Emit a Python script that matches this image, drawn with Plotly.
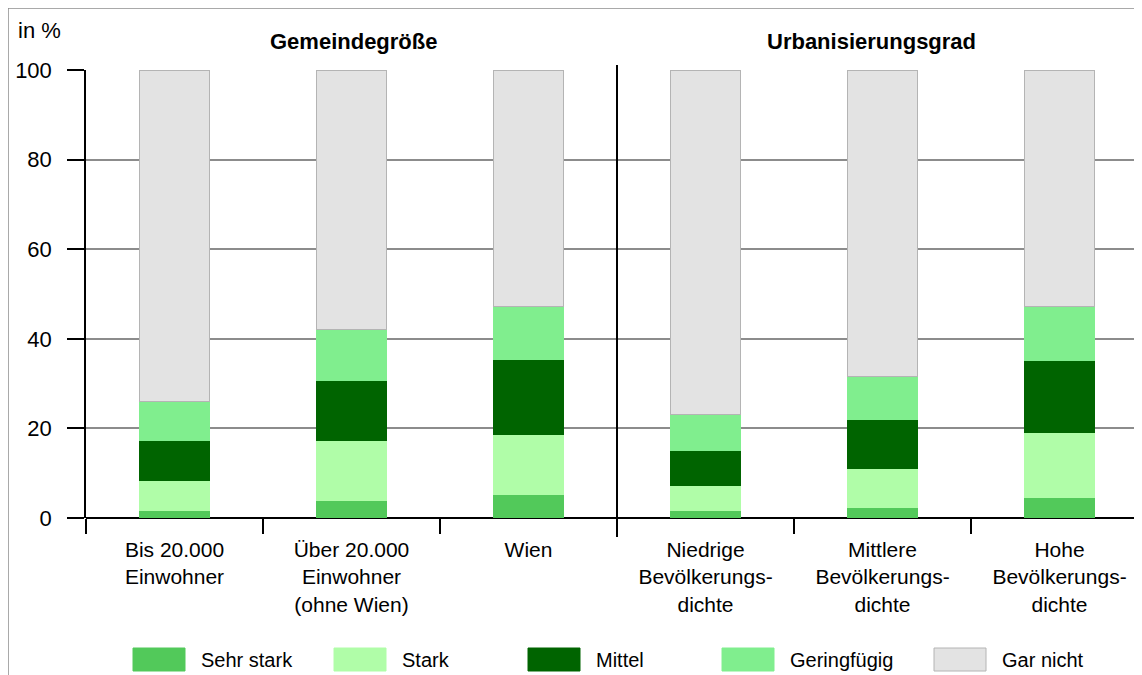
import plotly.graph_objects as go

categories = [
    "Bis 20.000<br>Einwohner",
    "Über 20.000<br>Einwohner<br>(ohne Wien)",
    "Wien",
    "Niedrige<br>Bevölkerungs-<br>dichte",
    "Mittlere<br>Bevölkerungs-<br>dichte",
    "Hohe<br>Bevölkerungs-<br>dichte",
]
series_names = ["Sehr stark", "Stark", "Mittel", "Geringfügig", "Gar nicht"]
sehr_stark = [1.7, 4.0, 5.2, 1.7, 2.3, 4.6]
stark = [6.6, 13.3, 13.4, 5.5, 8.8, 14.4]
mittel = [9.0, 13.3, 16.8, 7.8, 10.9, 16.2]
geringfuegig = [8.6, 11.4, 11.8, 8.1, 9.6, 12.0]
gar_nicht = [74.1, 58.0, 52.8, 76.9, 68.4, 52.8]
series_values = [sehr_stark, stark, mittel, geringfuegig, gar_nicht]
colors = ["#52c95a", "#b0fda8", "#006400", "#80ee8e", "#e3e3e3"]
group_titles = ["Gemeindegröße", "Urbanisierungsgrad"]
y_ticks = [0, 20, 40, 60, 80, 100]

# page has an 8px body margin; figure sized to fit the window exactly
OFF = 8
W, H = 1142 - OFF, 675 - OFF
L, R, T = 86 - OFF, 0, 70 - OFF
B = H - (518 - OFF)
pw, ph = W - L - R, H - T - B


def px(x):  # screen pixel -> paper
    return (x - OFF - L) / pw


def py(y):
    return (518 - y) / ph


FONT = "Liberation Sans, Arial, sans-serif"

fig = go.Figure()
for name, vals, col in zip(series_names, series_values, colors):
    fig.add_trace(go.Bar(
        x=list(range(len(categories))), y=vals, name=name,
        marker=dict(color=col,
                    line=dict(color="#b4b4b4" if name == "Gar nicht" else col, width=1)),
        showlegend=False, width=0.4,
    ))

shapes = []
# separator line between groups
shapes.append(dict(type="line", xref="x", yref="paper", x0=2.5, x1=2.5,
                   y0=py(537), y1=py(65), line=dict(color="black", width=2)))
# outer frame
shapes.append(dict(type="line", xref="paper", yref="paper", x0=px(8), x1=px(1150),
                   y0=py(8), y1=py(8), line=dict(color="#8c8c8c", width=1.5)))
shapes.append(dict(type="line", xref="paper", yref="paper", x0=px(8), x1=px(8),
                   y0=py(8), y1=py(680), line=dict(color="#8c8c8c", width=1.5)))

annotations = [
    dict(text="in %", xref="paper", yref="paper", x=px(16), y=py(30), xanchor="left",
         yanchor="middle", showarrow=False, font=dict(size=22, color="black", family=FONT)),
    dict(text="<b>%s</b>" % group_titles[0], xref="x", yref="paper", x=1.01, y=py(41),
         xanchor="center", yanchor="middle", showarrow=False,
         font=dict(size=22, color="black", family=FONT)),
    dict(text="<b>%s</b>" % group_titles[1], xref="x", yref="paper", x=3.94, y=py(41),
         xanchor="center", yanchor="middle", showarrow=False,
         font=dict(size=22, color="black", family=FONT)),
]

# custom legend
sw_left = [133, 334, 528, 722, 934]
for name, col, xl in zip(series_names, colors, sw_left):
    shapes.append(dict(type="rect", xref="paper", yref="paper", x0=px(xl), x1=px(xl + 52),
                       y0=py(671), y1=py(648), fillcolor=col,
                       line=dict(color="#b4b4b4" if name == "Gar nicht" else col, width=1)))
    annotations.append(dict(text=name, xref="paper", yref="paper", x=px(xl + 66), y=py(660),
                            xanchor="left", yanchor="middle", showarrow=False,
                            font=dict(size=20, color="black", family=FONT)))

fig.update_layout(
    width=W, height=H, barmode="stack",
    margin=dict(l=L, r=R, t=T, b=B, autoexpand=False),
    paper_bgcolor="white", plot_bgcolor="white",
    font=dict(family=FONT, size=22, color="black"),
    shapes=shapes, annotations=annotations,
    xaxis=dict(
        tickmode="array", tickvals=list(range(len(categories))), ticktext=categories,
        range=[-0.5, -0.5 + pw / 177], showgrid=False, zeroline=False,
        showline=False, ticks="", tickfont=dict(size=21), ticklabelstandoff=17,
    ),
    yaxis=dict(
        range=[0, 100], tickvals=y_ticks, showgrid=True, gridcolor="#8c8c8c", gridwidth=1.5,
        zeroline=True, zerolinecolor="black", zerolinewidth=1.5,
        showline=True, linecolor="black", linewidth=1.5,
        ticks="outside", ticklen=17, tickcolor="black", tickwidth=1.5,
        tickfont=dict(size=22), ticklabelstandoff=11,
    ),
)

# x-axis boundary ticks via an overlaid linear axis
fig.add_trace(go.Scatter(x=[-0.5, 5.5], y=[None, None], xaxis="x2", showlegend=False,
                         hoverinfo="skip"))
fig.update_layout(xaxis2=dict(overlaying="x", side="bottom", anchor="y",
                              range=[-0.5, -0.5 + pw / 177],
                              tickvals=[-0.5, 0.5, 1.5, 2.5, 3.5, 4.5], ticktext=[""] * 6,
                              ticks="outside", ticklen=15, tickcolor="black", tickwidth=1.5,
                              showgrid=False, zeroline=False, showline=False))

fig.write_html("out.html")
